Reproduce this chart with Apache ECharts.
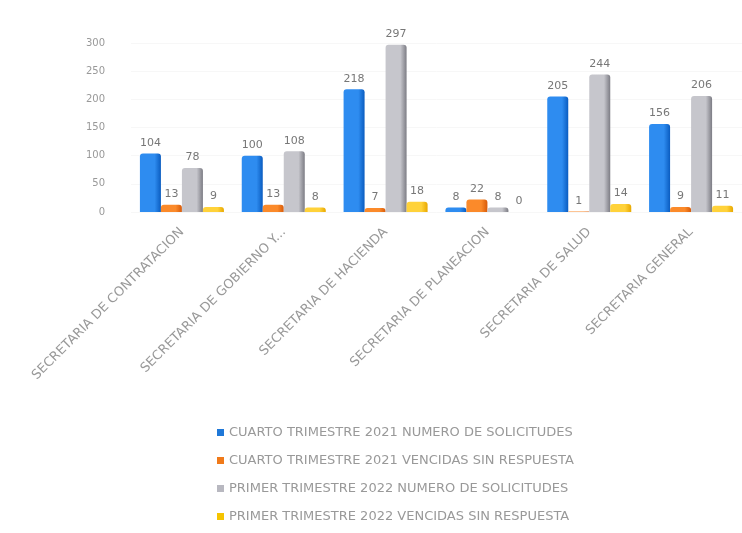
<!DOCTYPE html>
<html>
<head>
<meta charset="utf-8">
<script src="https://cdn.jsdelivr.net/npm/echarts@6/dist/echarts.min.js"></script>
<style>
  html, body { margin: 0; padding: 0; background: #ffffff; }
  #chart { width: 742px; height: 533px; }
</style>
</head>
<body>
<div id="chart"></div>
<script>
// Requests per secretariat, Q4 2021 vs Q1 2022
const categories = [
  'SECRETARIA DE CONTRATACION',
  'SECRETARIA DE GOBIERNO Y...',
  'SECRETARIA DE HACIENDA',
  'SECRETARIA DE PLANEACION',
  'SECRETARIA DE SALUD',
  'SECRETARIA GENERAL'
];
const seriesNames = [
  'CUARTO TRIMESTRE 2021 NUMERO DE SOLICITUDES',
  'CUARTO TRIMESTRE 2021 VENCIDAS SIN RESPUESTA',
  'PRIMER TRIMESTRE 2022 NUMERO DE SOLICITUDES',
  'PRIMER TRIMESTRE 2022 VENCIDAS SIN RESPUESTA'
];
const q4Requests = [104, 100, 218, 8, 205, 156];
const q4Overdue = [13, 13, 7, 22, 1, 9];
const q1Requests = [78, 108, 297, 8, 244, 206];
const q1Overdue = [9, 8, 18, 0, 14, 11];
const yTicks = [0, 50, 100, 150, 200, 250, 300];

const palette = [
  ['#2e8cf0', '#0a5cc0'],
  ['#fb8a2a', '#d85a08'],
  ['#c6c6cc', '#7c7c84'],
  ['#ffd23a', '#e8a800']
];
const legendColors = ['#1f78d8', '#f07a1a', '#b8b8c0', '#f5c400'];

function shade(pair) {
  return new echarts.graphic.LinearGradient(0, 0, 1, 0, [
    { offset: 0, color: pair[0] },
    { offset: 0.7, color: pair[0] },
    { offset: 1, color: pair[1] }
  ]);
}

const seriesData = [q4Requests, q4Overdue, q1Requests, q1Overdue];

const chart = echarts.init(document.getElementById('chart'));
chart.setOption({
  animation: false,
  backgroundColor: '#ffffff',
  textStyle: { fontFamily: 'DejaVu Sans' },
  legend: {
    orient: 'vertical',
    left: 212,
    top: 421,
    itemWidth: 7,
    itemHeight: 7,
    itemGap: 15,
    icon: 'rect',
    textStyle: { color: '#999999', fontSize: 13, fontFamily: 'DejaVu Sans' },
    data: seriesNames.map((n, i) => ({ name: n, itemStyle: { color: legendColors[i] } }))
  },
  grid: { left: 131, top: 43, width: 626, height: 169, containLabel: false },
  xAxis: {
    type: 'category',
    data: categories,
    axisLine: { show: false },
    axisTick: { show: false },
    axisLabel: {
      rotate: 45,
      interval: 0,
      margin: 18,
      color: '#999999',
      fontSize: 13,
      fontFamily: 'DejaVu Sans'
    }
  },
  yAxis: {
    type: 'value',
    min: 0,
    max: 300,
    interval: 50,
    axisLine: { show: false },
    axisTick: { show: false },
    splitLine: { show: true, lineStyle: { color: '#f7f7f7' } },
    axisLabel: {
      color: '#999999',
      fontSize: 10,
      margin: 26,
      fontFamily: 'DejaVu Sans',
      formatter: v => (yTicks.includes(v) ? String(v) : '')
    }
  },
  series: seriesNames.map((name, i) => ({
    name: name,
    type: 'bar',
    data: seriesData[i],
    barWidth: 21,
    barGap: '0%',
    barCategoryGap: '20%',
    itemStyle: { color: shade(palette[i]), borderRadius: [3, 3, 0, 0] },
    label: {
      show: true,
      position: 'top',
      distance: 5,
      color: '#777777',
      fontSize: 11,
      fontFamily: 'DejaVu Sans'
    }
  }))
});
</script>
</body>
</html>
